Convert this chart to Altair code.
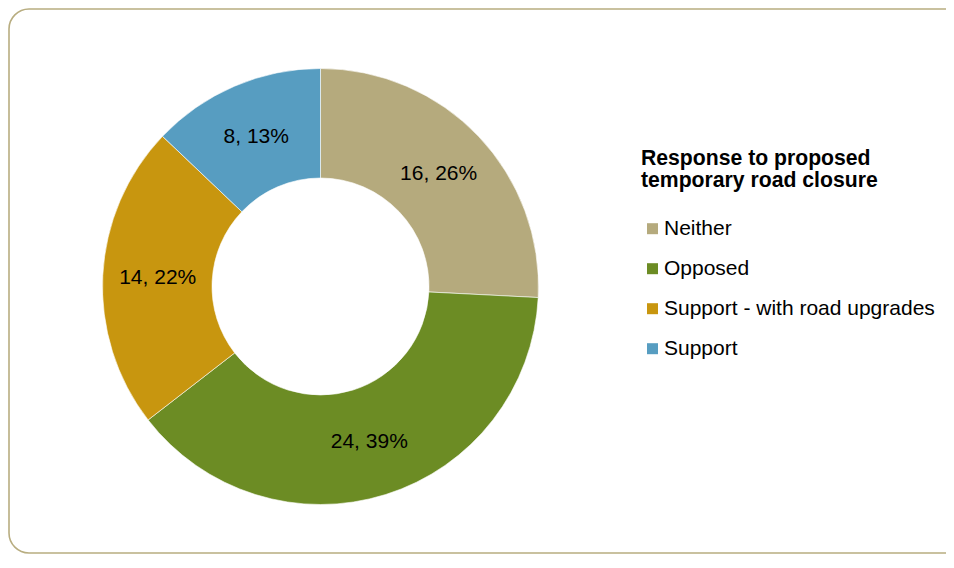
import altair as alt
import pandas as pd

categories = ["Neither", "Opposed", "Support - with road upgrades", "Support"]
counts = [16, 24, 14, 8]
percents = [26, 39, 22, 13]
colors = ["#B5AA7D", "#6C8C24", "#C8960F", "#579DC1"]
legend_title = ["Response to proposed", "temporary road closure"]

df = pd.DataFrame({
    "category": categories,
    "count": counts,
    "pct": percents,
    "idx": list(range(len(categories))),
})
df["label"] = [f"{c}, {p}%" for c, p in zip(counts, percents)]

W, H = 938, 546
CX, CY = 312.5, 278.5

color = alt.Color(
    "category:N",
    scale=alt.Scale(domain=categories, range=colors),
    sort=categories,
    legend=alt.Legend(
        title=legend_title,
        orient="none",
        legendX=633,
        legendY=140,
        symbolType="square",
        symbolSize=121,
        symbolStrokeWidth=0,
        symbolOffset=1,
        labelOffset=1,
        labelFont="Liberation Sans",
        labelFontSize=21,
        labelColor="#000000",
        labelLimit=400,
        titleFont="Liberation Sans",
        titleFontSize=21.2,
        titleFontWeight="bold",
        titleColor="#000000",
        titleLineHeight=22,
        titlePadding=27,
        rowPadding=18,
        padding=0,
        titleLimit=400,
    ),
)

base = alt.Chart(df)

frame = base.mark_rect(
    fill=None, stroke="#B8AD80", strokeWidth=1.6, cornerRadius=20
).encode(
    x=alt.value(1), x2=alt.value(W + 30), y=alt.value(1), y2=alt.value(H - 1)
).transform_filter(alt.datum.idx == 0)

arcs = base.mark_arc(
    outerRadius=218, innerRadius=108.5, stroke="#ffffff", strokeWidth=0.6
).encode(
    theta=alt.Theta("count:Q", stack=True),
    color=color,
    order=alt.Order("idx:Q"),
    x=alt.value(CX),
    y=alt.value(CY),
)

labels = base.mark_text(
    font="Liberation Sans", fontSize=21, color="#000000", radius=163
).encode(
    theta=alt.Theta("count:Q", stack=True),
    order=alt.Order("idx:Q"),
    text="label:N",
    x=alt.value(CX),
    y=alt.value(CY),
)

chart = alt.layer(frame, arcs, labels).properties(
    width=W,
    height=H,
    padding=0,
    autosize=alt.AutoSizeParams(type="none"),
).configure_view(stroke=None)

chart.save("out.html", embed_options={"renderer": "svg", "actions": False})
